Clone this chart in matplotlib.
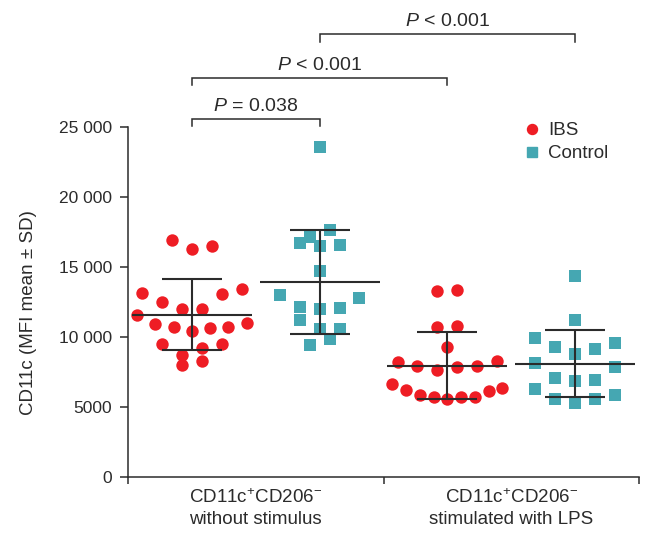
import numpy as np
import matplotlib.pyplot as plt
from matplotlib.lines import Line2D

plt.rcParams['font.family'] = ['Liberation Sans', 'DejaVu Sans']
plt.rcParams['mathtext.fontset'] = 'custom'
plt.rcParams['mathtext.rm'] = 'Liberation Sans'
plt.rcParams['mathtext.it'] = 'Liberation Sans:italic'
plt.rcParams['mathtext.bf'] = 'Liberation Sans:bold'

# CD11c MFI per subject
ibs_unstim = [16930, 16260, 16480, 13410, 13050, 13140, 12480, 12020, 12000,
              11600, 10710, 10620, 10930, 10740, 11000, 10450, 9480, 9480,
              9190, 8740, 7980, 8290]
ctrl_unstim = [23570, 17670, 17170, 16690, 16480, 16600, 14740, 13020, 12760,
               12120, 11980, 12070, 11190, 10550, 10550, 9880, 9430]
ibs_lps = [13330, 13290, 10790, 10740, 9260, 8290, 7950, 7830, 7640, 7950,
           8210, 6670, 6210, 5880, 5690, 5570, 5690, 5690, 6120, 6330]
ctrl_lps = [14380, 11190, 9900, 9600, 9310, 9170, 8790, 8140, 7830, 6950,
            7050, 6880, 6310, 5830, 5570, 5570, 5260]

groups = [ibs_unstim, ctrl_unstim, ibs_lps, ctrl_lps]
group_kind = ['IBS', 'Control', 'IBS', 'Control']
category_labels = ['CD11c$^{+}$CD206$^{-}$\nwithout stimulus',
                   'CD11c$^{+}$CD206$^{-}$\nstimulated with LPS']
y_ticks = [0, 5000, 10000, 15000, 20000, 25000]
y_tick_labels = ['0', '5000', '10 000', '15 000', '20 000', '25 000']
# (group a, group b, label) -- groups numbered from 1
comparisons = [(1, 2, '$P$ = 0.038'), (1, 3, '$P$ < 0.001'), (2, 4, '$P$ < 0.001')]

RED = '#EE1D24'
TEAL = '#45A7B2'
INK = '#2B2B2B'
style = {'IBS': dict(marker='o', color=RED), 'Control': dict(marker='s', color=TEAL)}

# scatter layout: values are binned into rows, each row spread sideways
ROW_H = 1700        # data units per row
ROW_ORIGIN = 8500
MAX_STEP = 0.156    # x units between neighbours in a row
MAX_WIDTH = 0.86    # widest a row may get


def row_offsets(values):
    values = np.asarray(values, dtype=float)
    rows = np.floor((values - ROW_ORIGIN) / ROW_H).astype(int)
    offs = np.zeros(len(values))
    for r in np.unique(rows):
        idx = np.where(rows == r)[0]
        idx = idx[np.argsort(values[idx])]  # lowest in the middle, "smile"
        n = len(idx)
        if n == 1:
            continue
        step = min(MAX_STEP, MAX_WIDTH / (n - 1))
        if n % 2:
            slots = [0] + [s * k for k in range(1, n) for s in (1, -1)]
        else:
            slots = [s * (k - 0.5) for k in range(1, n) for s in (-1, 1)]
        offs[idx] = np.array(slots[:n]) * step
    return offs


fig = plt.figure(figsize=(6.49, 5.36), dpi=100)
ax = fig.add_axes([128 / 649, 59 / 536, 511 / 649, 476 / 536])
ax.set_xlim(0.5, 4.5)
ax.set_ylim(0, 34000)

for spine in ['top', 'right']:
    ax.spines[spine].set_visible(False)
ax.spines['left'].set_bounds(0, 25000)
for spine in ['left', 'bottom']:
    ax.spines[spine].set_color(INK)
    ax.spines[spine].set_linewidth(1.1)

ax.set_yticks(y_ticks)
ax.set_yticklabels(y_tick_labels)
ax.tick_params(axis='y', length=5.5, width=1.1, color=INK, pad=6,
               labelsize=12.5, labelcolor=INK)

ax.set_xticks([0.5, 2.5, 4.5])
ax.set_xticklabels([])
ax.set_xticks([1.5, 3.5], minor=True)
ax.set_xticklabels(category_labels, minor=True, fontsize=13.5, color=INK,
                   linespacing=1.3)
ax.tick_params(axis='x', which='major', length=5, width=1.1, color=INK)
ax.tick_params(axis='x', which='minor', length=0, pad=8)

ax.set_ylabel('CD11c (MFI mean ± SD)', fontsize=13.5, color=INK)
ax.yaxis.set_label_coords(-0.178, 0.345)

for pos, (vals, kind) in enumerate(zip(groups, group_kind), start=1):
    vals = np.asarray(vals, dtype=float)
    xs = pos + row_offsets(vals)
    ax.scatter(xs, vals, s=80, marker=style[kind]['marker'],
               color=style[kind]['color'], linewidths=0, zorder=2)
    m = vals.mean()
    sd = vals.std(ddof=1)
    ax.hlines(m, pos - 0.47, pos + 0.47, color=INK, lw=1.5, zorder=3)
    ax.vlines(pos, m - sd, m + sd, color=INK, lw=1.5, zorder=3)
    ax.hlines([m - sd, m + sd], pos - 0.235, pos + 0.235, color=INK, lw=1.5, zorder=3)

levels = [25570, 28520, 31620]
for (a, b, label), h in zip(comparisons, levels):
    ax.plot([a, a, b, b], [h - 520, h, h, h - 520], color=INK, lw=1.1,
            solid_joinstyle='miter')
    ax.text((a + b) / 2, h + 560, label, ha='center', va='baseline',
            fontsize=14, color=INK)

handles = [Line2D([], [], ls='none', marker='o', color=RED, markersize=7.2),
           Line2D([], [], ls='none', marker='s', color=TEAL, markersize=6.5)]
fig.legend(handles, ['IBS', 'Control'], loc='upper left',
           bbox_to_anchor=(524 / 649, 1 - 122 / 536), frameon=False,
           fontsize=13.5, handlelength=0.8, handletextpad=0.5,
           borderpad=0, borderaxespad=0, labelspacing=0.33, labelcolor=INK)

fig.savefig('out.png', dpi=100)
